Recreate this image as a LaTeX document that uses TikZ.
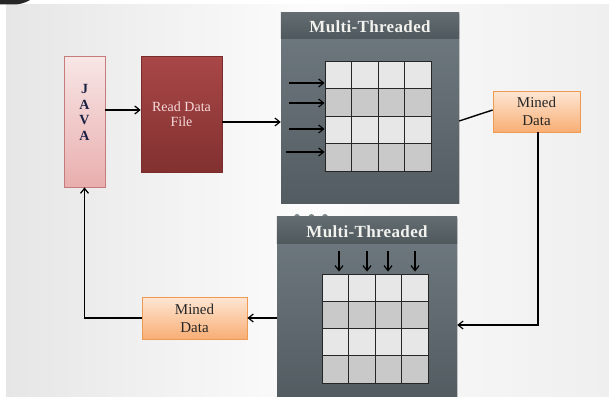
\documentclass[tikz,border=0pt]{standalone}
\usepackage{fontspec}
\setmainfont{Liberation Serif}
\usetikzlibrary{arrows.meta,shadows,calc}
\definecolor{bgL}{HTML}{E6E6E6}
\definecolor{bgM}{HTML}{FCFCFC}
\definecolor{bgR}{HTML}{EFEFEF}
\definecolor{javaT}{HTML}{F8E6E6}
\definecolor{javaB}{HTML}{E9AEAE}
\definecolor{javaD}{HTML}{C47C7C}
\definecolor{javaTxt}{HTML}{1C2244}
\definecolor{readT}{HTML}{A94747}
\definecolor{readB}{HTML}{823030}
\definecolor{readD}{HTML}{7A2C2C}
\definecolor{readTxt}{HTML}{F6DADA}
\definecolor{minT}{HTML}{FEE6D4}
\definecolor{minB}{HTML}{F8AE74}
\definecolor{minD}{HTML}{EE9A52}
\definecolor{panT}{HTML}{707B81}
\definecolor{panB}{HTML}{535C61}
\definecolor{headT}{HTML}{626C71}
\definecolor{headB}{HTML}{4F585D}
\definecolor{dotC}{HTML}{7C868B}
\definecolor{cellL}{HTML}{E7E7E7}
\definecolor{cellD}{HTML}{C9C9C9}
\definecolor{titleC}{HTML}{F2F2EE}
\begin{document}
\begin{tikzpicture}[x=1pt,y=-1pt,
  arr/.style={line width=1.4pt,-{Straight Barb[length=5pt,width=8pt,line width=1.2pt]}},
  plain/.style={line width=1.4pt},
  shd/.style={drop shadow={opacity=0.3,shadow xshift=1.2pt,shadow yshift=-1.2pt}},
  javabox/.style={shd,draw=javaD,line width=0.8pt,top color=javaT,bottom color=javaB,inner sep=0pt},
  readbox/.style={shd,draw=readD,line width=0.6pt,top color=readT,bottom color=readB,inner sep=0pt},
  minbox/.style={shd,draw=minD,line width=0.8pt,top color=minT,bottom color=minB,inner sep=0pt},
  panel/.style={shd,top color=panT,bottom color=panB,inner sep=0pt},
  gridnode/.style={draw=black!85,line width=0.9pt,inner sep=0pt},
  titletxt/.style={font=\fontsize{17}{19}\selectfont\bfseries\addfontfeatures{LetterSpace=2},text=titleC},
  boxtxt/.style={font=\fontsize{15}{18}\selectfont,align=center,text=black!85}
]
\useasboundingbox (0,0) rectangle (609,396);
\fill[white] (0,0) rectangle (609,396);
\shade[left color=bgL,right color=bgR,middle color=bgM] (6,5) rectangle (609,396);
\fill[black!85] (0,0) -- (30,0) to[out=-150,in=0] (12,4.5) -- (0,4.5) -- cycle;

% JAVA
\node[javabox,minimum width=41pt,minimum height=131pt] (java) at (84.5,121.5) {};
\node[font=\fontsize{14}{15.5}\selectfont\bfseries,text=javaTxt,align=center] (javatxt) at (84.5,112.5) {J\\A\\V\\A};

% Read Data File
\node[readbox,minimum width=81pt,minimum height=116pt,text=readTxt,align=center,font=\fontsize{14}{15.5}\selectfont] (read) at (181.5,114) {Read Data\\File};

% top panel
\node[panel,minimum width=178pt,minimum height=190pt] (top) at (370,108) {};
\shade[top color=headT,bottom color=headB] (top.north west) rectangle ($(top.north east)+(0,26)$);
\node[titletxt] (toptitle) at (370,26.5) {Multi-Threaded};
\node[gridnode,minimum width=106pt,minimum height=110pt] (g1) at (378,116) {};
\foreach \r in {0,1,2,3}{
  \foreach \c in {0,1,2,3}{
    \pgfmathsetmacro{\xa}{325+26.5*\c}
    \pgfmathsetmacro{\ya}{61+27.5*\r}
    \ifodd\r \def\cc{cellD}\else\def\cc{cellL}\fi
    \filldraw[fill=\cc,draw=black!85,line width=0.9pt] (\xa,\ya) rectangle ++(26.5,27.5);
  }
}
\coordinate (a1) at (289,83);
\coordinate (a2) at (289,103);
\coordinate (a3) at (289,129);
\coordinate (a4) at (286,152);
\foreach \a in {a1,a2,a3,a4}{\draw[arr] (\a) -- (\a -| g1.west);}

% Mined Data top
\node[minbox,minimum width=87pt,minimum height=41pt,boxtxt] (m1) at (536.5,111.5) {Mined\\Data};

% bottom panel
\foreach \dx in {297,311.5,325}{\fill[dotC] (\dx,217) circle (3);}
\node[panel,minimum width=180pt,minimum height=179pt] (bot) at (367,306.5) {};
\shade[top color=headT,bottom color=headB] (bot.north west) rectangle ($(bot.north east)+(0,27)$);
\node[titletxt] (bottitle) at (367,232) {Multi-Threaded};
\node[gridnode,minimum width=106pt,minimum height=109pt] (g2) at (375,328.5) {};
\foreach \r in {0,1,2,3}{
  \foreach \c in {0,1,2,3}{
    \pgfmathsetmacro{\xa}{322+26.5*\c}
    \pgfmathsetmacro{\ya}{274+27.25*\r}
    \ifodd\r \def\cc{cellD}\else\def\cc{cellL}\fi
    \filldraw[fill=\cc,draw=black!85,line width=0.9pt] (\xa,\ya) rectangle ++(26.5,27.25);
  }
}
\coordinate (b1) at (339,251);
\coordinate (b2) at (367,251);
\coordinate (b3) at (388,251);
\coordinate (b4) at (415,251);
\foreach \b in {b1,b2,b3,b4}{\draw[arr] (\b) -- ([yshift=2pt]\b |- g2.north);}

% Mined Data bottom
\node[minbox,minimum width=105pt,minimum height=42pt,boxtxt] (m2) at (194.5,318) {Mined\\Data};

% connectors
\draw[arr] ([yshift=11.5pt]java.east) -- ([yshift=11.5pt]java.east -| read.west);
\draw[arr] ([yshift=-8pt]read.east) -- ([yshift=-8pt]read.east -| top.west);
\draw[plain] ([yshift=-13pt]top.east) -- ([yshift=1.5pt]m1.west);
\draw[arr] ([xshift=1.5pt]m1.south) |- ([yshift=-18.5pt]bot.east);
\draw[arr] (m2.east -| bot.west) -- (m2.east);
\draw[arr] (m2.west) -| (java.south);
\end{tikzpicture}
\end{document}
